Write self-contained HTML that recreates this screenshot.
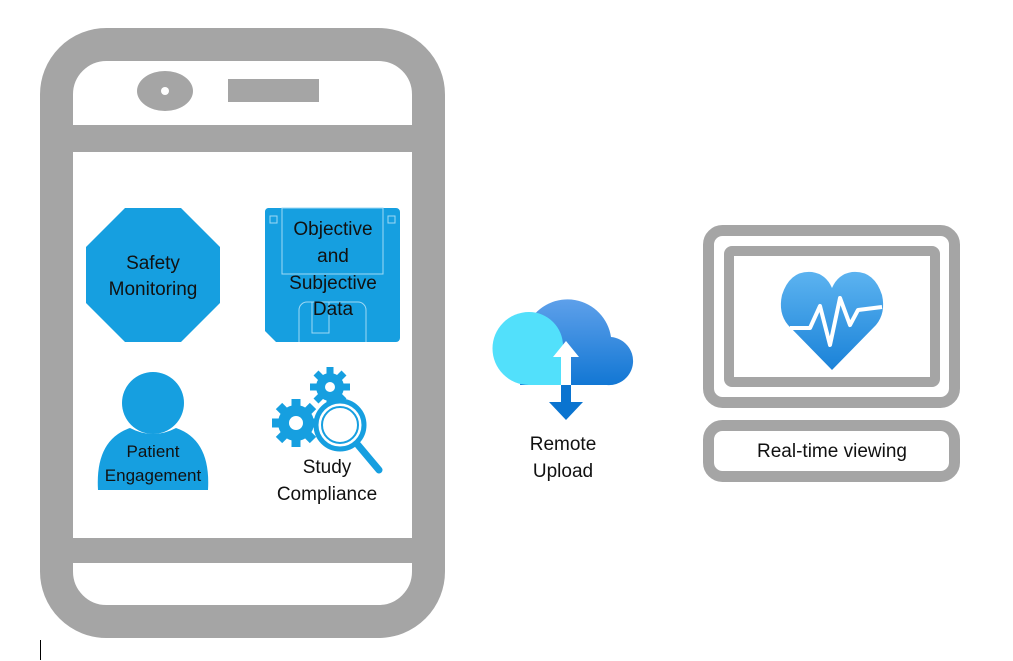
<!DOCTYPE html>
<html><head><meta charset="utf-8"><style>
body{margin:0;background:#fff;width:1013px;height:661px;overflow:hidden}
svg{display:block}
text{font-family:"Liberation Sans",sans-serif;fill:#111}
</style></head><body>
<svg width="1013" height="661" viewBox="0 0 1013 661">
<defs>
<linearGradient id="cg" x1="0" y1="0" x2="0" y2="1"><stop offset="0" stop-color="#5ea0ea"/><stop offset="1" stop-color="#1277d4"/></linearGradient>
<linearGradient id="hg" x1="0" y1="0" x2="0" y2="1"><stop offset="0" stop-color="#5cb3f0"/><stop offset="1" stop-color="#1a82d8"/></linearGradient>
</defs>
<!-- phone -->
<rect x="56.5" y="44.5" width="372" height="577" rx="50" fill="#fff" stroke="#a5a5a5" stroke-width="33"/>
<rect x="56" y="125" width="373" height="27" fill="#a5a5a5"/>
<rect x="56" y="538" width="373" height="25" fill="#a5a5a5"/>
<ellipse cx="165" cy="91" rx="28" ry="20" fill="#a5a5a5"/>
<circle cx="165" cy="91" r="4" fill="#fff"/>
<rect x="228" y="79" width="91" height="23" fill="#a5a5a5"/>
<!-- octagon -->
<polygon points="125,208 181,208 220,247 220,303 181,342 125,342 86,303 86,247" fill="#169fe0"/>
<text x="153" y="269" font-size="19" text-anchor="middle">Safety</text>
<text x="153" y="295" font-size="19" text-anchor="middle">Monitoring</text>
<!-- floppy -->
<path d="M268,208 H396 a4,4 0 0 1 4,4 V338 a4,4 0 0 1 -4,4 H276 L265,331 V212 a4,4 0 0 1 3,-4z" fill="#169fe0"/>
<rect x="282" y="208" width="101" height="66" fill="none" stroke="#9fd8f4" stroke-width="1"/>
<path d="M299,342 V310 a8,8 0 0 1 8,-8 H358 a8,8 0 0 1 8,8 V342" fill="none" stroke="#9fd8f4" stroke-width="1"/>
<rect x="312" y="302" width="17" height="31" fill="none" stroke="#9fd8f4" stroke-width="1"/>
<rect x="270" y="216" width="7" height="7" fill="none" stroke="#9fd8f4"/>
<rect x="388" y="216" width="7" height="7" fill="none" stroke="#9fd8f4"/>
<text x="333" y="235" font-size="19" text-anchor="middle">Objective</text>
<text x="333" y="262" font-size="19" text-anchor="middle">and</text>
<text x="333" y="289" font-size="19" text-anchor="middle">Subjective</text>
<text x="333" y="315" font-size="19" text-anchor="middle">Data</text>
<!-- person -->
<circle cx="153" cy="403" r="31" fill="#169fe0"/>
<path d="M98,490 Q95,440 130,428 Q153,440 176,428 Q211,440 208,490 Z" fill="#169fe0"/>
<text x="153" y="457" font-size="17" text-anchor="middle">Patient</text>
<text x="153" y="481" font-size="17" text-anchor="middle">Engagement</text>
<!-- gears -->
<g fill="#169fe0">
<circle cx="296" cy="423" r="18"/>
<g stroke="#169fe0" stroke-width="9">
<line x1="296" y1="399" x2="296" y2="447"/><line x1="272" y1="423" x2="320" y2="423"/>
<line x1="279" y1="406" x2="313" y2="440"/><line x1="313" y1="406" x2="279" y2="440"/></g>
<circle cx="330" cy="387" r="14"/>
<g stroke="#169fe0" stroke-width="7">
<line x1="330" y1="367" x2="330" y2="407"/><line x1="310" y1="387" x2="350" y2="387"/>
<line x1="316" y1="373" x2="344" y2="401"/><line x1="344" y1="373" x2="316" y2="401"/></g>
</g>
<circle cx="296" cy="423" r="7" fill="#fff"/>
<circle cx="330" cy="387" r="5" fill="#fff"/>
<circle cx="340" cy="425" r="24" fill="#fff" stroke="#169fe0" stroke-width="5"/>
<circle cx="340" cy="425" r="18" fill="none" stroke="#169fe0" stroke-width="2"/>
<line x1="358" y1="445" x2="379" y2="470" stroke="#169fe0" stroke-width="7" stroke-linecap="round"/>
<text x="327" y="473" font-size="19" text-anchor="middle">Study</text>
<text x="327" y="500" font-size="19" text-anchor="middle">Compliance</text>
<!-- cloud -->
<path d="M520,385 H607 a24,24 0 0 0 4,-48 a44,44 0 0 0 -82,-15 Z" fill="url(#cg)"/>
<path d="M529,385 a34,34 0 0 1 0,-73 a34,34 0 0 1 34,34 V385 Z" fill="#52e0fb"/>
<polygon points="566,341 553,357 561,357 561,385 571,385 571,357 579,357" fill="#fff"/>
<rect x="561" y="385" width="10" height="18" fill="#0a74d0"/>
<polygon points="549,402 583,402 566,420" fill="#0a74d0"/>
<text x="563" y="450" font-size="19" text-anchor="middle">Remote</text>
<text x="563" y="477" font-size="19" text-anchor="middle">Upload</text>
<!-- monitor -->
<rect x="708.5" y="230.5" width="246" height="172" rx="14" fill="#fff" stroke="#a5a5a5" stroke-width="11"/>
<rect x="729" y="251" width="206" height="131" rx="3" fill="#fff" stroke="#a5a5a5" stroke-width="10"/>
<path d="M832,370 L788,325 Q778,313 782,295 Q790,270 812,272 Q826,274 832,288 Q838,274 852,272 Q874,270 882,295 Q886,313 876,325 Z" fill="url(#hg)"/>
<polyline points="790,328 810,328 820,306 830,345 840,298 850,325 858,310 882,307" fill="none" stroke="#fff" stroke-width="4" stroke-linejoin="round"/>
<rect x="708.5" y="425.5" width="246" height="51" rx="14" fill="#fff" stroke="#a5a5a5" stroke-width="11"/>
<text x="832" y="457" font-size="19" text-anchor="middle">Real-time viewing</text>
<line x1="40.5" y1="640" x2="40.5" y2="660" stroke="#000" stroke-width="1"/>
</svg>
</body></html>
